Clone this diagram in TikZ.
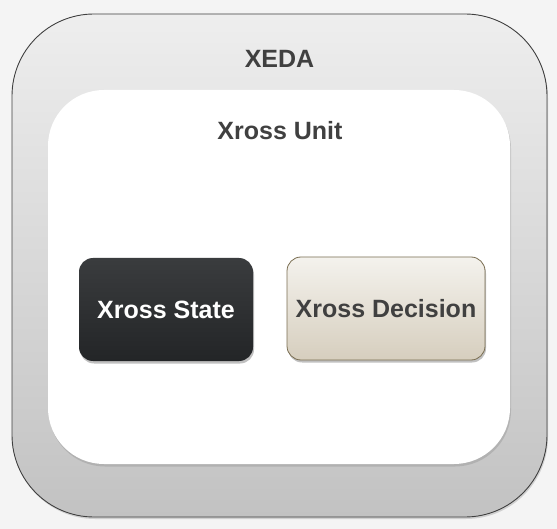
\documentclass[tikz,border=0pt]{standalone}
\usepackage{fontspec}
\setmainfont{Liberation Sans}
\usetikzlibrary{shadows}
\definecolor{bgc}{HTML}{F4F4F4}
\definecolor{outtop}{HTML}{EEEEEE}
\definecolor{outbot}{HTML}{C2C2C2}
\definecolor{txt}{HTML}{404040}
\definecolor{darktop}{HTML}{3A3C3E}
\definecolor{darkbot}{HTML}{232527}
\definecolor{begtop}{HTML}{F4F2ED}
\definecolor{begbot}{HTML}{D6CEBE}
\definecolor{begline}{HTML}{7A6E52}
\tikzset{
  lbl/.style={font=\fontsize{25}{28}\selectfont\bfseries, text=txt},
  box/.style={rounded corners=14pt, minimum width=174pt, minimum height=103pt, inner sep=0pt,
    drop shadow={shadow xshift=1pt, shadow yshift=-2.5pt, opacity=0.35, fill=black!70}},
}
\begin{document}
\begin{tikzpicture}[x=1pt,y=-1pt]
\fill[bgc] (0,0) rectangle (557,529);
\useasboundingbox (0,0) rectangle (557,529);
\node[draw=black!75, line width=0.9pt, rounded corners=82pt, minimum width=535pt, minimum height=503pt,
  top color=outtop, bottom color=outbot, inner sep=0pt,
  drop shadow={shadow xshift=1pt, shadow yshift=-2pt, opacity=0.3}] (xeda) at (279.5,265.5) {};
\node[lbl] (xedal) at (279.5,59) {XEDA};
\node[fill=white, rounded corners=56pt, minimum width=462pt, minimum height=374pt, inner sep=0pt,
  drop shadow={shadow xshift=1pt, shadow yshift=-2.5pt, opacity=0.3}] (unit) at (279,277) {};
\node[lbl] (unitl) at (280,131) {Xross Unit};
\node[box, top color=darktop, bottom color=darkbot, text=white, font=\fontsize{25}{28}\selectfont\bfseries, text depth=0pt, yshift=-1pt]
  (state) at (166,308.5) {Xross State};
\node[box, minimum width=198pt, draw=begline, line width=0.8pt, top color=begtop, bottom color=begbot, lbl]
  (dec) at (386,308.5) {Xross Decision};
\end{tikzpicture}
\end{document}
